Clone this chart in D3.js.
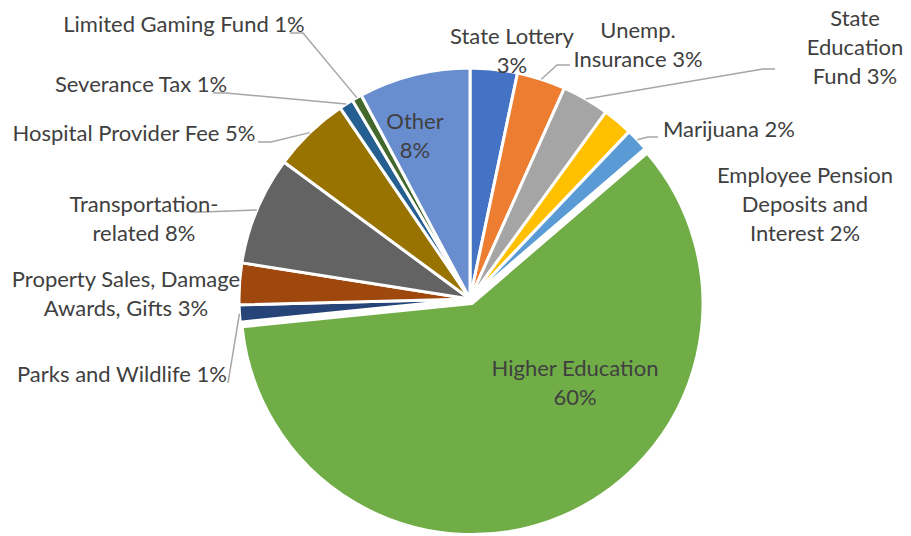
<!DOCTYPE html>
<html>
<head>
<meta charset="utf-8">
<script src="https://cdn.jsdelivr.net/npm/d3@7"></script>
<style>
  html, body { margin: 0; padding: 0; background: #fff; }
  svg { display: block; }
</style>
</head>
<body>
<div id="chart"></div>
<script>
// Revenue sources (share of total, %)
const categories = [
  "State Lottery", "Unemp. Insurance", "State Education Fund", "Employee Pension Deposits and Interest",
  "Marijuana", "Higher Education", "Parks and Wildlife", "Property Sales, Damage Awards, Gifts",
  "Transportation-related", "Hospital Provider Fee", "Severance Tax", "Limited Gaming Fund", "Other"
]
const values = [3.3, 3.4, 3.3, 2.1, 1.6, 59.7, 1.2, 2.9, 7.6, 5.4, 1.0, 0.7, 7.8]
const colors = [
  "#4472C4", "#ED7D31", "#A5A5A5", "#FFC000", "#5B9BD5", "#70AD47", "#264478",
  "#9E480E", "#636363", "#997300", "#255E91", "#43682B", "#698ED0"
]
const explodedSlice = "Higher Education"

// label layout: text lines ({p} = percent), first baseline, centre x, leader elbow points
const labelLayout = [
  { cx: 512, y: 44, lines: ["State Lottery", "{p}"] },
  { cx: 638, y: 38, lines: ["Unemp.", "Insurance {p}"], leader: [[570, 65], [557, 65]] },
  { cx: 855, y: 26, lines: ["State", "Education", "Fund {p}"], leader: [[775, 69], [763, 69]] },
  { cx: 805, y: 183, lines: ["Employee Pension", "Deposits and", "Interest {p}"] },
  { cx: 729, y: 137, lines: ["Marijuana {p}"], leader: [[658, 137], [648, 137]] },
  { cx: 575, y: 376, lines: ["Higher Education", "{p}"] },
  { cx: 122, y: 382, lines: ["Parks and Wildlife {p}"], leader: [[228, 383]] },
  { cx: 126, y: 287, lines: ["Property Sales, Damage", "Awards, Gifts {p}"] },
  { cx: 144, y: 212, lines: ["Transportation-", "related {p}"], leader: [[190, 212], [203, 212]] },
  { cx: 134, y: 141, lines: ["Hospital Provider Fee {p}"], leader: [[258, 142], [271, 142]] },
  { cx: 141, y: 92, lines: ["Severance Tax {p}"], leader: [[213, 93], [226, 93]] },
  { cx: 184, y: 32, lines: ["Limited Gaming Fund {p}"], leader: [[290, 33], [303, 33]] },
  { cx: 415, y: 129, lines: ["Other", "{p}"] }
]

const width = 911
const height = 536
const cx = 470
const cy = 299
const radius = 231
const explode = 5
const lineHeight = 29

const svg = d3.select("#chart")
  .append("svg")
  .attr("width", width)
  .attr("height", height)
  .attr("viewBox", `0 0 ${width} ${height}`)

const total = d3.sum(values)
const rows = categories.map((c, i) => ({ name: c, value: values[i], color: colors[i], layout: labelLayout[i] }))

const pie = d3.pie().value((d) => d.value).sort(null).startAngle(0).endAngle(2 * Math.PI)
const arcs = pie(rows)
const arc = d3.arc().innerRadius(0).outerRadius(radius)

const g = svg.append("g").attr("transform", `translate(${cx},${cy})`)

// slices
g.selectAll("path.slice")
  .data(arcs)
  .join("path")
  .attr("class", "slice")
  .attr("d", arc)
  .attr("fill", (d) => d.data.color)
  .attr("stroke", "#fff")
  .attr("stroke-width", 3)
  .attr("stroke-linejoin", "round")
  .attr("transform", (d) => {
    if (d.data.name !== explodedSlice) return null
    const a = (d.startAngle + d.endAngle) / 2
    return `translate(${explode * Math.sin(a)},${-explode * Math.cos(a)})`
  })

// leader lines (from slice edge to label)
const edgePoint = (d) => {
  const a = (d.startAngle + d.endAngle) / 2
  return [cx + radius * Math.sin(a), cy - radius * Math.cos(a)]
}

svg.append("g")
  .selectAll("polyline")
  .data(arcs.filter((d) => d.data.layout.leader))
  .join("polyline")
  .attr("points", (d) => [...d.data.layout.leader, edgePoint(d)].map((p) => p.join(",")).join(" "))
  .attr("fill", "none")
  .attr("stroke", "#A6A6A6")
  .attr("stroke-width", 1.5)

// labels
const pct = (v) => Math.round((v / total) * 100) + "%"

const labels = svg.append("g")
  .attr("font-family", "Lato, 'Open Sans', sans-serif")
  .attr("font-size", "22px")
  .attr("fill", "#404040")
  .attr("text-anchor", "middle")
  .selectAll("text")
  .data(arcs)
  .join("text")
  .attr("x", (d) => d.data.layout.cx)
  .attr("y", (d) => d.data.layout.y)

labels.selectAll("tspan")
  .data((d) => d.data.layout.lines.map((l) => l.replace("{p}", pct(d.data.value))))
  .join("tspan")
  .attr("x", function () { return d3.select(this.parentNode).attr("x") })
  .attr("dy", (d, i) => (i === 0 ? 0 : lineHeight))
  .text((d) => d)
</script>
</body>
</html>
